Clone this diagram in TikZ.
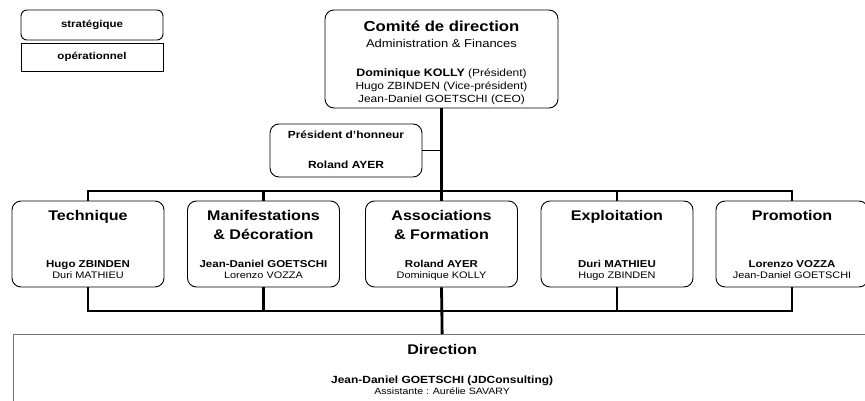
\documentclass[tikz,border=0pt]{standalone}
\usepackage{fontspec}
\setmainfont[FakeStretch=1.15]{Liberation Sans}
\usetikzlibrary{positioning}

\newcommand\chef[1]{{\bfseries\fontsize{10}{12}\selectfont #1}}

\tikzset{
  cadre/.style={draw, fill=white, rounded corners=9pt, line width=0.9pt, inner sep=0pt},
  pole/.style={minimum width=152pt, minimum height=86pt},
  titre/.style={font=\bfseries\fontsize{14}{19}\selectfont, align=center, inner sep=0pt, anchor=north},
  noms/.style={font=\fontsize{9.5}{11.5}\selectfont, align=center, inner sep=0pt, anchor=north},
  legende/.style={draw, line width=0.9pt, minimum width=142pt, inner sep=0pt, font=\bfseries\fontsize{10}{12}\selectfont},
  bus/.style={line width=2.8pt},
  lien/.style={line width=1.3pt}
}

\begin{document}
\begin{tikzpicture}[x=1pt,y=-1pt]
\useasboundingbox (0,0) rectangle (865,401);
\clip (0,0) rectangle (865,401);

% legende
\node[legende, rounded corners=6pt, minimum height=30pt] (strat) at (92,25) {stratégique};
\node[legende, minimum height=28pt] (oper) at (92,57) {opérationnel};

% comite de direction
\node[cadre, minimum width=233pt, minimum height=98pt] (comite) at (441.5,59) {};
\node[noms, font=\fontsize{11.3}{13}\selectfont] (comiteT) at ([yshift=-11.6pt]comite.north)
  {{\bfseries\fontsize{14.5}{17}\selectfont Comité de direction}\\[2.5pt] Administration \& Finances};
\node[noms, font=\fontsize{10.4}{13}\selectfont] (comiteN) at ([yshift=-59.2pt]comite.north)
  {{\bfseries\fontsize{10.8}{13}\selectfont Dominique KOLLY} (Président)\\ Hugo ZBINDEN (Vice-président)\\ Jean-Daniel GOETSCHI (CEO)};

% president d'honneur
\node[cadre, minimum width=152pt, minimum height=53pt] (honneur) at (346,150.5) {};
\node[noms, font=\bfseries\fontsize{10.4}{12}\selectfont] (honneurT) at ([yshift=-7pt]honneur.north)
  {Président d’honneur\\[18pt] Roland AYER};

% poles
\node[cadre, pole] (tech) at (88,244) {};
\node[titre] (techT) at ([yshift=-10pt]tech.north) {Technique};
\node[noms] (techN) at ([yshift=-59.5pt]tech.north) {\chef{Hugo ZBINDEN}\\ Duri MATHIEU};

\node[cadre, pole] (manif) at (263.5,244) {};
\node[titre] (manifT) at ([yshift=-10pt]manif.north) {Manifestations\\ \& Décoration};
\node[noms] (manifN) at ([yshift=-59.5pt]manif.north) {\chef{Jean-Daniel GOETSCHI}\\ Lorenzo VOZZA};

\node[cadre, pole] (assoc) at (441.5,244) {};
\node[titre] (assocT) at ([yshift=-10pt]assoc.north) {Associations\\ \& Formation};
\node[noms] (assocN) at ([yshift=-59.5pt]assoc.north) {\chef{Roland AYER}\\ Dominique KOLLY};

\node[cadre, pole] (exploit) at (617,244) {};
\node[titre] (exploitT) at ([yshift=-10pt]exploit.north) {Exploitation};
\node[noms] (exploitN) at ([yshift=-59.5pt]exploit.north) {\chef{Duri MATHIEU}\\ Hugo ZBINDEN};

\node[cadre, pole] (promo) at (792,244) {};
\node[titre] (promoT) at ([yshift=-10pt]promo.north) {Promotion};
\node[noms] (promoN) at ([yshift=-59.5pt]promo.north) {\chef{Lorenzo VOZZA}\\ Jean-Daniel GOETSCHI};

% direction
\node[cadre, draw=black!55, line width=1.3pt, rounded corners=0pt, minimum width=857pt, minimum height=90pt, anchor=north west] (dir) at (13,334) {};
\node[titre] (dirT) at ([yshift=-9.8pt]dir.north) {Direction};
\node[noms, font=\fontsize{9.2}{11}\selectfont] (dirN) at ([yshift=-41.3pt]dir.north)
  {{\bfseries\fontsize{10.4}{11}\selectfont Jean-Daniel GOETSCHI (JDConsulting)}\\ Assistante : Aurélie SAVARY};

% liaisons
\coordinate (busH) at (441.5,191);
\coordinate (busB) at (441.5,311);
\draw[bus] (comite.south) -- (assoc.north);
\draw[bus] (assoc.south) -- (dir.north);
\draw[lien] (honneur.east) -- (honneur.east -| comite.south);
\draw[bus] (tech.north) |- (promo.north |- busH) -- (promo.north);
\draw[bus] (manif.north) -- (manif.north |- busH);
\draw[bus] (exploit.north) -- (exploit.north |- busH);
\draw[bus] (tech.south) |- (promo.south |- busB) -- (promo.south);
\draw[bus] (manif.south) -- (manif.south |- busB);
\draw[bus] (exploit.south) -- (exploit.south |- busB);
\end{tikzpicture}
\end{document}
